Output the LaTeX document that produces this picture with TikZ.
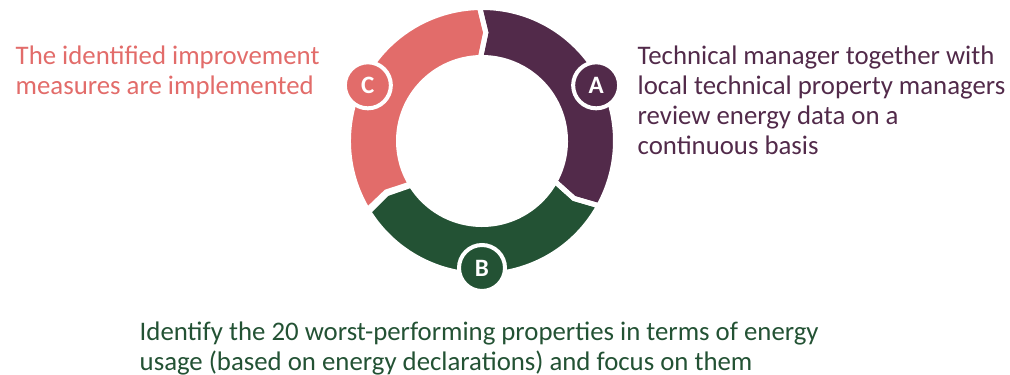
\documentclass[tikz,border=0pt]{standalone}
\usepackage{fontspec}
\setmainfont{Carlito}
\definecolor{cpurple}{HTML}{522A4A}
\definecolor{cgreen}{HTML}{235234}
\definecolor{cpink}{HTML}{E26C6A}
\begin{document}
\begin{tikzpicture}[x=1pt,y=1pt,
  label text/.style={font=\fontsize{26.8}{30}\selectfont, inner sep=0pt, align=left, anchor=base west},
  badge/.style={circle, minimum size=46pt, inner sep=0pt, draw=white, line width=4pt, text=white, font=\fontsize{25}{25}\selectfont\bfseries}]
\useasboundingbox (0,0) rectangle (1010,375);
\def\Ro{133.5pt}\def\Ri{83.5pt}\def\Rm{108.5pt}\def\dd{3}
% segment: #1 style, #3 start angle (notch), #4 end angle (tip)
\newcommand\ringseg[4][]{%
  \path[#1] (#3:\Ro) arc[start angle=#3, end angle=#4, radius=\Ro] -- ({#4-\dd}:\Rm) -- (#4:\Ri)
    arc[start angle=#4, end angle=#3, radius=\Ri] -- ({#3-\dd}:\Rm) -- cycle;}
\begin{scope}[shift={(482,234)}]
  \ringseg[fill=cpink]{}{212}{91}
  \ringseg[fill=cpurple]{}{91}{-29}
  \ringseg[fill=cgreen]{}{-29}{-149}
  \ringseg[draw=white, line width=5pt, line join=miter]{}{212}{91}
  \ringseg[draw=white, line width=5pt, line join=miter]{}{91}{-29}
  \ringseg[draw=white, line width=5pt, line join=miter]{}{-29}{-149}
  \node[badge, fill=cpurple] (a) at (26:127pt) {A};
  \node[badge, fill=cgreen] (b) at (270:127pt) {B};
  \node[badge, fill=cpink] (c) at (154:127pt) {C};
\end{scope}
\node[label text, text=cpink] (tc) at (15.5,280) {The identified improvement\\measures are implemented};
\node[label text, text=cpurple] (ta) at (637.5,220) {Technical manager together with\\local technical property managers\\review energy data on a\\continuous basis};
\node[label text, text=cgreen] (tb) at (139.5,5) {Identify the 20 worst-performing properties in terms of energy\\usage (based on energy declarations) and focus on them};
\end{tikzpicture}
\end{document}
